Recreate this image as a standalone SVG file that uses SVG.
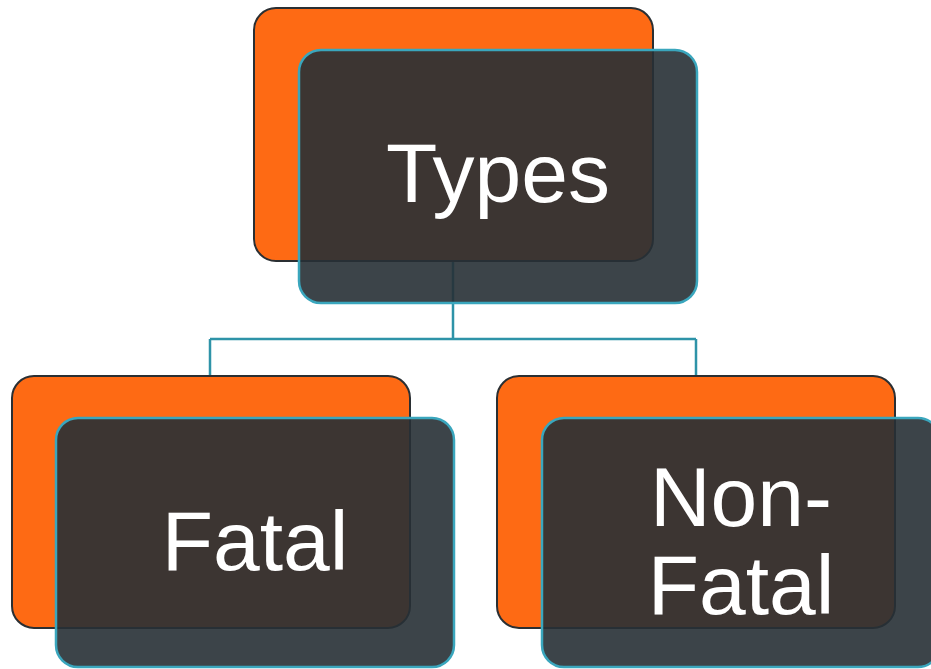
<svg xmlns="http://www.w3.org/2000/svg" width="931" height="669" viewBox="0 0 931 669">
<style>
.back{fill:#fe6a14;stroke:#2a2f33;stroke-width:2}
.front{fill:#273035;fill-opacity:0.9;stroke:#3aa6bd;stroke-width:2.5}
.lbl{font-family:"Liberation Sans",Arial,sans-serif;font-size:84px;fill:#ffffff;text-anchor:middle}
.conn{fill:none;stroke:#2e93a8;stroke-width:2.5}
</style>
<rect width="931" height="669" fill="#ffffff"/>
<g id="connectors">
<path class="conn" d="M453,261 V339 M210,339 H696 M210,339 V376 M696,339 V376"/>
</g>
<g id="node-types">
<rect class="back" x="254" y="8" width="399" height="253" rx="22"/>
<rect class="front" x="299" y="50" width="398" height="253" rx="22"/>
<text class="lbl" x="498" y="202">Types</text>
</g>
<g id="node-fatal">
<rect class="back" x="12" y="376" width="398" height="252" rx="22"/>
<rect class="front" x="56" y="418" width="398" height="249" rx="22"/>
<text class="lbl" x="255" y="570">Fatal</text>
</g>
<g id="node-nonfatal">
<rect class="back" x="497" y="376" width="398" height="252" rx="22"/>
<rect class="front" x="542" y="418" width="398" height="249" rx="22"/>
<text class="lbl" x="741" y="526">Non-</text>
<text class="lbl" x="741" y="614">Fatal</text>
</g>
</svg>
